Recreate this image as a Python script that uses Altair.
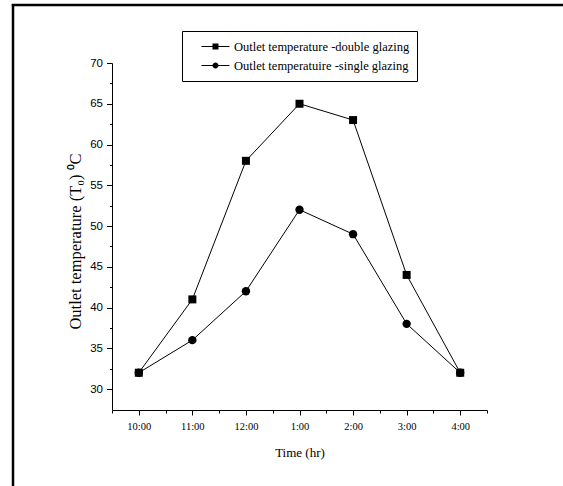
import json
import altair as alt
import pandas as pd

time_labels = ["10:00", "11:00", "12:00", "1:00", "2:00", "3:00", "4:00"]
double_glazing = [32, 41, 58, 65, 63, 44, 32]
single_glazing = [32, 36, 42, 52, 49, 38, 32]
series_names = ["Outlet temperature -double glazing", "Outlet temperatuire -single glazing"]
y_tick_values = [30, 32.5, 35, 37.5, 40, 42.5, 45, 47.5, 50, 52.5, 55, 57.5,
                 60, 62.5, 65, 67.5, 70]
x_tick_values = [-0.5, 0, 0.5, 1, 1.5, 2, 2.5, 3, 3.5, 4, 4.5, 5, 5.5, 6, 6.5]

rows = []
for i, t in enumerate(time_labels):
    rows.append({"idx": i, "time": t, "series": series_names[0], "value": double_glazing[i]})
    rows.append({"idx": i, "time": t, "series": series_names[1], "value": single_glazing[i]})
df = pd.DataFrame(rows)

SERIF = "Liberation Serif, Times New Roman, serif"
NARROW = "Liberation Sans Narrow, Arial Narrow, Liberation Sans, sans-serif"

x_axis = alt.Axis(
    values=x_tick_values,
    labelExpr="datum.value % 1 === 0 ? " + json.dumps(time_labels) + "[datum.value] : ''",
    tickSize={"condition": {"test": "datum.value % 1 === 0", "value": 5}, "value": 3},
    labelPadding=6, labelFont=SERIF, labelFontSize=10.5, labelColor="black",
    labelAngle=0, labelBaseline="top",
    grid=False, domainColor="black", tickColor="black", domainWidth=1, tickWidth=1,
    title="Time (hr)", titleFont=SERIF, titleFontSize=13, titleFontWeight="normal",
    titleColor="black", titleX=187.5, titleY=42, titleBaseline="middle", titleAlign="center",
)
y_axis = alt.Axis(
    values=y_tick_values,
    labelExpr="datum.value % 5 === 0 ? datum.label : ''",
    tickSize={"condition": {"test": "datum.value % 5 === 0", "value": 5.5}, "value": 2.5},
    labelPadding=4, labelFont=NARROW, labelFontSize=11.5, labelColor="black",
    grid=False, domainColor="black", tickColor="black", domainWidth=1, tickWidth=1,
    title="Outlet temperature (T₀) ⁰C", titleFont=SERIF, titleFontSize=16.5,
    titleFontWeight="normal", titleColor="black", titleAngle=-90,
    titleX=-37, titleY=178, titleBaseline="middle", titleAlign="center",
)

x_enc = alt.X("idx:Q", scale=alt.Scale(domain=[-0.5, 6.5], nice=False, zero=False), axis=x_axis)
y_enc = alt.Y("value:Q", scale=alt.Scale(domain=[27.43, 70], nice=False, zero=False), axis=y_axis)

base = alt.Chart(df)

lines = base.mark_line(color="black", strokeWidth=1).encode(
    x=x_enc, y=y_enc, detail="series:N"
)
squares = base.transform_filter(alt.datum.series == series_names[0]).mark_point(
    shape="square", filled=True, color="black", size=64, opacity=1
).encode(x=x_enc, y=y_enc)
circles = base.transform_filter(alt.datum.series == series_names[1]).mark_point(
    shape="circle", filled=True, color="black", size=70, opacity=1
).encode(x=x_enc, y=y_enc)

sq_path = ("M-0.4,-0.025L1,-0.025L1,0.025L-0.4,0.025Z"
           "M0.15,-0.15L0.45,-0.15L0.45,0.15L0.15,0.15Z")
ci_path = ("M-0.4,-0.025L1,-0.025L1,0.025L-0.4,0.025Z"
           "M0.45,0A0.15,0.15,0,1,1,0.15,0A0.15,0.15,0,1,1,0.45,0Z")

legend_layer = base.mark_point(filled=True, color="black", opacity=0, size=1).encode(
    x=x_enc, y=y_enc,
    shape=alt.Shape(
        "series:N",
        scale=alt.Scale(domain=series_names, range=[sq_path, ci_path]),
        legend=alt.Legend(
            title=None, orient="none", legendX=70, legendY=-32,
            symbolSize=1600, symbolOpacity=1, symbolFillColor="black",
            symbolStrokeColor="black", symbolStrokeWidth=0.5,
            clipHeight=17, rowPadding=2, padding=7, labelOffset=4,
            labelFont=SERIF, labelFontSize=12.5, labelColor="black", labelLimit=400,
            strokeColor="black", fillColor="white", cornerRadius=0,
        ),
    ),
)

frame_df = pd.DataFrame({"k": [0]})
frame_left = alt.Chart(frame_df).mark_rule(color="black", strokeWidth=2.5).encode(
    x=alt.value(-99), y=alt.value(-59), y2=alt.value(423)
)
frame_top = alt.Chart(frame_df).mark_rule(color="black", strokeWidth=2.5).encode(
    y=alt.value(-58), x=alt.value(-100.2), x2=alt.value(470)
)

chart = alt.layer(lines, squares, circles, legend_layer, frame_left, frame_top).properties(
    width=375, height=347,
    autosize=alt.AutoSizeParams(type="none"),
    padding={"left": 112, "top": 63, "right": 76, "bottom": 76},
    background="white",
).configure_view(stroke=None)

chart.save("out.html", embed_options={"renderer": "svg", "actions": False})
